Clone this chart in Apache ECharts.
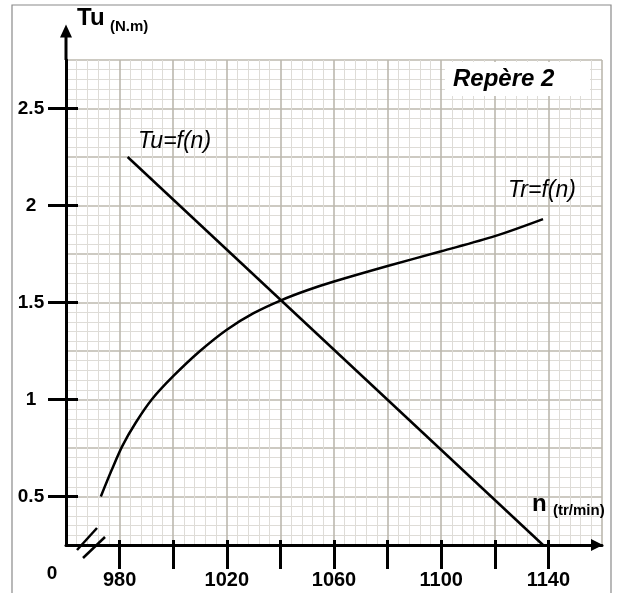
<!DOCTYPE html>
<html>
<head>
<meta charset="utf-8">
<script src="https://cdn.jsdelivr.net/npm/echarts@6/dist/echarts.min.js"></script>
<style>
  html, body { margin: 0; padding: 0; background: #fff; }
  #chart { width: 620px; height: 593px; }
</style>
</head>
<body>
<div id="chart"></div>
<script>
// n (tr/min) / Tu (N.m)
const tuPoints = [[983, 2.25], [1138, 0.25]]
const trN = [973, 977, 981, 986, 992, 1000, 1010, 1020, 1030, 1040, 1050, 1060, 1080, 1100, 1120, 1138]
const trT = [0.5, 0.635, 0.76, 0.88, 1.0, 1.12, 1.25, 1.36, 1.445, 1.51, 1.563, 1.608, 1.688, 1.764, 1.842, 1.93]
const xTicks = [980, 1000, 1020, 1040, 1060, 1080, 1100, 1120, 1140]
const xLabels = [980, 1020, 1060, 1100, 1140]
const yTicks = [0.5, 1, 1.5, 2, 2.5]

const trPoints = trN.map((n, i) => [n, trT[i]])

const font = 'Liberation Sans, Arial, sans-serif'
const chart = echarts.init(document.getElementById('chart'))

const xRange = { type: 'value', min: 960, max: 1160, interval: 20, position: 'bottom' }
const yRange = { type: 'value', min: 0.25, max: 2.75, interval: 0.25, position: 'left' }
const off = { show: false }

const option = {
  backgroundColor: '#fff',
  animation: false,
  grid: { left: 66, right: 18, top: 60, bottom: 48, outerBoundsMode: 'none' },
  xAxis: [
    // papier millimetré
    {
      ...xRange,
      axisLine: off, axisTick: off, axisLabel: off,
      splitLine: { show: true, lineStyle: { color: '#bcb8ae', width: 1.6 } },
      minorTick: { show: false, splitNumber: 5 },
      minorSplitLine: { show: true, lineStyle: { color: '#dedcd7', width: 1 } },
    },
    // axe + graduations
    {
      ...xRange,
      axisLine: {
        show: true,
        symbol: ['none', 'triangle'],
        symbolSize: [12, 12],
        symbolOffset: [0, -5],
        lineStyle: { color: '#000', width: 3 },
      },
      axisTick: { show: true, customValues: xTicks, length: 24, lineStyle: { color: '#000', width: 3 } },
      axisLabel: {
        show: true, customValues: xLabels, margin: 25,
        formatter: v => String(v),
        color: '#000', fontSize: 20, fontWeight: 'bold', fontFamily: font,
      },
      splitLine: off,
    },
    {
      ...xRange,
      axisLine: off, axisLabel: off, splitLine: off,
      axisTick: { show: true, inside: true, customValues: xTicks, length: 5, lineStyle: { color: '#000', width: 3 } },
    },
  ],
  yAxis: [
    {
      ...yRange,
      axisLine: off, axisTick: off, axisLabel: off,
      splitLine: { show: true, lineStyle: { color: '#bcb8ae', width: 1.6 } },
      minorTick: { show: false, splitNumber: 5 },
      minorSplitLine: { show: true, lineStyle: { color: '#dedcd7', width: 1 } },
    },
    {
      ...yRange,
      axisLine: {
        show: true,
        symbol: ['none', 'triangle'],
        symbolSize: [12, 13],
        symbolOffset: [0, 29],
        lineStyle: { color: '#000', width: 3 },
      },
      axisTick: { show: true, customValues: yTicks, length: 18, lineStyle: { color: '#000', width: 3 } },
      axisLabel: {
        show: true, customValues: yTicks, margin: 35, align: 'center',
        color: '#000', fontSize: 19, fontWeight: 'bold', fontFamily: font,
      },
      splitLine: off,
    },
    {
      ...yRange,
      axisLine: off, axisLabel: off, splitLine: off,
      axisTick: { show: true, inside: true, customValues: yTicks, length: 12, lineStyle: { color: '#000', width: 3 } },
    },
  ],
  series: [
    {
      name: 'Tu=f(n)',
      type: 'line',
      data: tuPoints,
      showSymbol: false,
      lineStyle: { color: '#000', width: 2.5 },
      z: 5,
    },
    {
      name: 'Tr=f(n)',
      type: 'line',
      data: trPoints,
      smooth: 0.3,
      showSymbol: false,
      lineStyle: { color: '#000', width: 2.5 },
      z: 5,
    },
  ],
}
chart.setOption(option)

// habillage : cadre, titres, flèche de l'axe Tu, coupure de l'axe n
const corner = chart.convertToPixel({ xAxisIndex: 0, yAxisIndex: 0 }, [960, 2.75])
const origin = chart.convertToPixel({ xAxisIndex: 0, yAxisIndex: 0 }, [960, 0.25])
const bx = origin[0] + 14

const txt = (text, x, y, size, weight, style, align) => ({
  type: 'text', z: 20,
  style: {
    text, x, y, fill: '#000', align: align || 'left', verticalAlign: 'middle',
    font: `${style || 'normal'} ${weight} ${size}px ${font}`,
  },
})

chart.setOption({
  graphic: [
    { type: 'rect', z: 1, shape: { x: 12, y: 5, width: 599, height: 620 }, style: { fill: 'none', stroke: '#8a8a8a', lineWidth: 1.2 } },
    { type: 'line', z: 20, shape: { x1: corner[0], y1: corner[1], x2: corner[0], y2: corner[1] - 24 }, style: { stroke: '#000', lineWidth: 3 } },
    { type: 'line', z: 20, shape: { x1: bx - 3, y1: origin[1] + 5, x2: bx + 17, y2: origin[1] - 17 }, style: { stroke: '#000', lineWidth: 2.5 } },
    { type: 'line', z: 20, shape: { x1: bx + 3, y1: origin[1] + 13, x2: bx + 25, y2: origin[1] - 8 }, style: { stroke: '#000', lineWidth: 2.5 } },
    { type: 'rect', z: 15, shape: { x: 445, y: 62, width: 145, height: 34 }, style: { fill: '#fff' } },
    txt('Repère 2', 453, 79, 24, 'bold', 'italic'),
    txt('Tu', 77, 18, 24, 'bold'),
    txt('(N.m)', 110, 27, 15, 'bold'),
    txt('n', 532, 504, 24, 'bold'),
    txt('(tr/min)', 553, 511, 15, 'bold'),
    txt('0', 52, 574, 19, 'bold', 'normal', 'center'),
    txt('Tu=f(n)', 138, 142, 23, 'normal', 'italic'),
    txt('Tr=f(n)', 508, 191, 23, 'normal', 'italic'),
  ],
})
</script>
</body>
</html>
